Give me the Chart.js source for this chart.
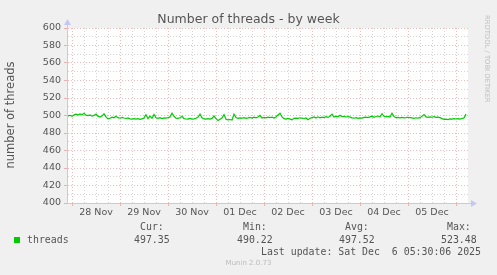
<!DOCTYPE html>
<html>
<head>
<meta charset="utf-8">
<script src="https://cdn.jsdelivr.net/npm/chart.js@4/dist/chart.umd.min.js"></script>
<style>
  html, body { margin: 0; padding: 0; background: #f0f0f0; }
  #wrap { position: relative; width: 497px; height: 275px; overflow: hidden; background: #f0f0f0; }
  #c { position: absolute; left: 0; top: 0; }
  .t { position: absolute; white-space: pre; color: #555; }
  .mono { font-family: "DejaVu Sans Mono", monospace; font-size: 9.9px; line-height: 12px; }
  .sans { font-family: "DejaVu Sans", sans-serif; }
</style>
</head>
<body>
<div id="wrap">
  <canvas id="c" width="497" height="275"></canvas>
  <div class="t sans" id="title" style="left:0;width:497px;text-align:center;top:11px;font-size:12.5px;line-height:16px;"></div>
  <div class="t sans" id="ytitle" style="left:10px;top:115px;font-size:11.5px;line-height:14px;transform:translate(-50%,-50%) rotate(-90deg);"></div>
  <div class="t sans" id="rrd" style="left:481px;top:15px;font-size:6.8px;line-height:12px;writing-mode:vertical-rl;color:#bdbdbd;"></div>
  <div id="legend"></div>
  <div class="t sans" id="munin" style="left:0;width:497px;text-align:center;top:257px;font-size:7px;line-height:12px;color:#bbbbbb;"></div>
</div>
<script>
// ---- data ----
const chartTitle = "Number of threads - by week";
const yAxisTitle = "number of threads";
const seriesName = "threads";
const dayLabels = ["28 Nov", "29 Nov", "30 Nov", "01 Dec", "02 Dec", "03 Dec", "04 Dec", "05 Dec"];
const yTickValues = [400, 420, 440, 460, 480, 500, 520, 540, 560, 580, 600];
const statNames = ["Cur:", "Min:", "Avg:", "Max:"];
const statValues = ["497.35", "490.22", "497.52", "523.48"];
const lastUpdate = "Last update: Sat Dec  6 05:30:06 2025";
const footer = "Munin 2.0.73";
const sideText = "RRDTOOL / TOBI OETIKER";
// hours relative to 28 Nov 00:00, one sample per hour
const startHour = -2;
const stepHours = 1;
const threads = [
  499.5, 500.2, 499.0, 500.8, 501.5, 500.6, 501.8, 500.9, 502.5, 500.4,
  499.8, 500.6, 499.2, 500.1, 501.6, 499.0, 498.2, 499.4, 502.0, 498.5,
  496.2, 496.8, 498.1, 497.4, 499.2, 497.5, 496.9, 497.8, 497.1, 496.6,
  497.3, 496.2, 495.8, 496.5, 495.9, 496.3, 495.7, 496.1, 497.2, 501.0,
  496.4, 499.3, 496.9, 501.2, 497.4, 496.8, 497.6, 496.5, 497.2, 496.9,
  497.5, 498.4, 502.6, 499.1, 497.0, 496.8, 497.4, 499.0, 496.4, 496.0,
  495.8, 496.6, 495.9, 496.2, 496.8, 498.2, 501.6, 497.3, 496.1, 495.8,
  496.4, 495.9, 496.7, 499.4, 496.5, 494.2, 495.8, 497.2, 501.0, 495.6,
  495.0, 495.4, 494.9, 501.4, 497.6, 496.8, 497.3, 496.9, 497.5, 496.8,
  497.2, 497.8, 497.0, 498.1, 497.4, 498.3, 500.1, 497.2, 497.9, 497.3,
  498.2, 497.5, 498.0, 497.1, 498.4, 500.6, 502.6, 498.3, 496.4, 495.9,
  496.6, 495.8, 495.0, 496.7, 497.1, 496.8, 497.4, 497.0, 496.6, 497.2,
  495.1, 496.8, 497.6, 498.3, 497.2, 498.5, 497.4, 498.1, 497.6, 498.6,
  497.8, 499.2, 501.5, 498.2, 498.9, 498.4, 500.3, 498.7, 499.1, 498.3,
  498.8, 498.1, 497.3, 496.9, 497.5, 496.8, 497.2, 497.0, 497.8, 498.1,
  497.6, 498.4, 499.2, 498.0, 498.9, 499.4, 498.6, 502.0, 499.1, 498.4,
  499.0, 498.2, 502.6, 498.8, 497.5, 497.9, 497.2, 497.8, 497.4, 497.6,
  498.0, 497.6, 497.2, 496.8, 497.4, 497.1, 497.5, 499.0, 501.0, 498.4,
  497.9, 498.4, 498.0, 498.6, 497.8, 498.2, 497.6, 496.4, 495.6, 495.9,
  495.4, 496.2, 495.8, 496.4, 496.0, 496.5, 495.9, 496.6, 497.2, 501.6
];

// ---- styles ----
const lineColor = "#00cc00";
const axisColor = "#c6c8f4";
const majorGrid = "rgba(222,90,90,0.42)";
const minorGrid = "rgba(140,140,140,0.38)";
const textColor = "#555555";

// ---- text overlays ----
document.getElementById("title").textContent = chartTitle;
document.getElementById("ytitle").textContent = yAxisTitle;
document.getElementById("rrd").textContent = sideText;
document.getElementById("munin").textContent = footer;

const legend = document.getElementById("legend");
function addText(txt, left, centerY) {
  const d = document.createElement("div");
  d.className = "t mono";
  d.style.left = left + "px";
  d.style.top = (centerY - 6) + "px";
  d.textContent = txt;
  legend.appendChild(d);
  return d;
}
const sq = document.createElement("div");
sq.style.cssText = "position:absolute;left:14px;top:237px;width:6px;height:6px;background:" + lineColor + ";";
legend.appendChild(sq);
addText(seriesName, 27, 240);
const statLeft = [140, 243, 345, 447];
const valLeft = [134, 237, 339, 441];
statNames.forEach((n, i) => addText(n, statLeft[i], 227));
statValues.forEach((v, i) => addText(v, valLeft[i], 240));
addText(lastUpdate, 261, 252);

// ---- chart ----
const points = threads.map((v, i) => ({ x: startHour + i * stepHours, y: v }));
const xGridHours = [];
for (let h = 0; h <= dayLabels.length * 24; h += 6) xGridHours.push(h);
const yGridValues = [];
for (let v = yTickValues[0]; v <= yTickValues[yTickValues.length - 1]; v += 10) yGridValues.push(v);

const bgPlugin = {
  id: "bg",
  beforeDraw(chart) {
    const { ctx, chartArea: a } = chart;
    ctx.save();
    ctx.fillStyle = "#f0f0f0";
    ctx.fillRect(0, 0, chart.width, chart.height);
    ctx.fillStyle = "#ffffff";
    ctx.fillRect(a.left, a.top, a.right - a.left, a.bottom - a.top);
    ctx.restore();
  },
  afterDraw(chart) {
    const { ctx, chartArea: a } = chart;
    ctx.save();
    ctx.fillStyle = axisColor;
    ctx.strokeStyle = axisColor;
    ctx.lineWidth = 1;
    ctx.beginPath();
    ctx.moveTo(a.left + 0.5, a.top);
    ctx.lineTo(a.left + 0.5, a.top - 4);
    ctx.stroke();
    ctx.beginPath();
    ctx.moveTo(a.left + 0.5, a.top - 9);
    ctx.lineTo(a.left - 3, a.top - 3);
    ctx.lineTo(a.left + 4, a.top - 3);
    ctx.closePath();
    ctx.fill();
    ctx.beginPath();
    ctx.moveTo(a.right, a.bottom + 0.5);
    ctx.lineTo(a.right + 4, a.bottom + 0.5);
    ctx.stroke();
    ctx.beginPath();
    ctx.moveTo(a.right + 9, a.bottom + 0.5);
    ctx.lineTo(a.right + 3, a.bottom - 3);
    ctx.lineTo(a.right + 3, a.bottom + 4);
    ctx.closePath();
    ctx.fill();
    ctx.restore();
  }
};

new Chart(document.getElementById("c"), {
  type: "line",
  data: {
    datasets: [{
      label: seriesName,
      data: points,
      borderColor: lineColor,
      borderWidth: 1.2,
      pointRadius: 0,
      tension: 0,
      fill: false
    }]
  },
  options: {
    responsive: false,
    devicePixelRatio: 1,
    animation: false,
    layout: { padding: { left: 0, top: 28, right: 29, bottom: 52 } },
    plugins: { legend: { display: false }, title: { display: false }, tooltip: { enabled: false } },
    scales: {
      x: {
        type: "linear",
        min: -2.5,
        max: 198,
        afterFit(s) { s.height = 20; },
        afterBuildTicks(s) { s.ticks = xGridHours.map(v => ({ value: v })); },
        ticks: {
          autoSkip: false,
          maxRotation: 0,
          padding: 1,
          color: textColor,
          font: { family: "DejaVu Sans", size: 9.5 },
          callback: (v) => (v % 24 === 12 ? dayLabels[(v - 12) / 24] : "")
        },
        grid: {
          color: (c) => (c.tick && c.tick.value % 24 === 0 ? majorGrid : minorGrid),
          tickColor: (c) => (c.tick && c.tick.value % 24 === 0 ? majorGrid : "rgba(0,0,0,0)"),
          tickLength: 3,
          lineWidth: 1
        },
        border: { color: axisColor, width: 1, dash: [1, 2] }
      },
      y: {
        type: "linear",
        min: 400,
        max: 600,
        afterFit(s) { s.width = 67; },
        afterBuildTicks(s) { s.ticks = yGridValues.map(v => ({ value: v })); },
        ticks: {
          autoSkip: false,
          padding: 3,
          color: textColor,
          font: { family: "DejaVu Sans", size: 9.5 },
          callback: (v) => (yTickValues.includes(v) ? String(v) : "")
        },
        grid: {
          color: (c) => (c.tick && yTickValues.includes(c.tick.value) ? majorGrid : minorGrid),
          tickColor: (c) => (c.tick && yTickValues.includes(c.tick.value) ? majorGrid : "rgba(0,0,0,0)"),
          tickLength: 3,
          lineWidth: 1
        },
        border: { color: axisColor, width: 1, dash: [1, 2] }
      }
    }
  },
  plugins: [bgPlugin]
});
</script>
</body>
</html>
